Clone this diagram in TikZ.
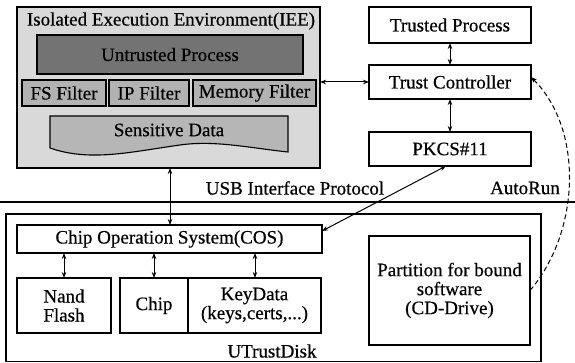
\documentclass[tikz,border=0pt]{standalone}
\usepackage{fontspec}
\setmainfont{Liberation Serif}[FakeBold=0.5]
\usetikzlibrary{arrows.meta}
\definecolor{ieebg}{RGB}{217,217,217}
\definecolor{darkbox}{RGB}{115,115,115}
\definecolor{filterbg}{RGB}{178,178,178}
\definecolor{databg}{RGB}{182,182,182}
\tikzset{
  box/.style={draw, line width=1.1pt, inner sep=0pt, outer sep=0pt, align=center},
  lbl/.style={inner sep=0pt, outer sep=0pt},
  link/.style={line width=1pt, {Stealth[length=6pt,width=4.5pt]}-{Stealth[length=6pt,width=4.5pt]}},
  autorun/.style={line width=1pt, dash pattern=on 5pt off 3pt, -{Stealth[length=6pt,width=4.5pt]}},
}
\begin{document}
\begin{tikzpicture}[x=1pt,y=-1pt,font=\fontsize{19}{21}\selectfont]
\useasboundingbox (0,0) rectangle (575,363);

% Isolated execution environment
\node[box, fill=ieebg, minimum width=303pt, minimum height=161pt] (iee) at (168.5,87.5) {};
\node[lbl] (ieelabel) at (171,21) {Isolated Execution Environment(IEE)};
\node[box, fill=darkbox, minimum width=266pt, minimum height=39pt] (untrusted) at (170,54.5) {Untrusted Process};
\node[box, fill=filterbg, minimum width=84pt, minimum height=26pt] (fs) at (64,93) {FS Filter};
\node[box, fill=filterbg, minimum width=80pt, minimum height=26pt] (ip) at (149,93) {IP Filter};
\node[box, fill=filterbg, minimum width=123pt, minimum height=26pt] (mem) at (254.5,93) {Memory Filter};
% sensitive data: document shape with wavy lower edge
\draw[line width=1.1pt, fill=databg] (50,116) -- (288,116) -- (288,152)
  .. controls (250,148) and (215,140) .. (180,145)
  .. controls (130,152) and (90,162) .. (50,148) -- cycle;
\node[lbl] (sensitive) at (169,130) {Sensitive Data};

% host side
\node[box, minimum width=162pt, minimum height=36pt] (trusted) at (450,25) {Trusted Process};
\node[box, minimum width=162pt, minimum height=34pt] (tc) at (450,82) {Trust Controller};
\node[box, minimum width=162pt, minimum height=34pt] (pkcs) at (450,149) {PKCS\#11};

% USB boundary
\draw[line width=2.6pt] (0,202) -- (575,202);
\node[lbl] (usb) at (295,188) {USB Interface Protocol};
\node[lbl] (autorunlbl) at (525,188) {AutoRun};

% UTrustDisk
\node[box, minimum width=535pt, minimum height=147.5pt] (utd) at (273.5,287.75) {};
\node[lbl] (utdlabel) at (272,351) {UTrustDisk};
\node[box, minimum width=305pt, minimum height=28pt] (cos) at (169.5,239) {Chip Operation System(COS)};
\node[box, minimum width=94pt, minimum height=55pt] (nand) at (64,305.5) {Nand\\[-2pt]Flash};
\node[box, minimum width=68pt, minimum height=55pt] (chip) at (154,305.5) {Chip};
\node[box, minimum width=133pt, minimum height=55pt] (keydata) at (254.5,305.5) {KeyData\\[-2pt](keys,certs,...)};
\node[box, minimum width=161pt, minimum height=109pt] (part) at (449.5,290.5) {Partition for bound\\[-2pt]software\\[-2pt](CD-Drive)};

% connectors
\draw[link] (trusted.south) -- (tc.north);
\draw[link] (tc.south) -- (pkcs.north);
\draw[link] (iee.east |- tc.west) -- (tc.west);
\draw[link] (iee.south -| 170,0) -- (cos.north -| 170,0);
\draw[link] (cos.south -| nand.north) -- (nand.north);
\draw[link] (cos.south -| chip.north) -- (chip.north);
\draw[link] (cos.south -| 255,0) -- (keydata.north -| 255,0);
\draw[link] ([yshift=8pt]cos.east) -- ([xshift=-4pt]pkcs.south);
\draw[autorun] (part.east) .. controls (580,232) and (584,130) .. ([yshift=5pt]tc.east);
\end{tikzpicture}
\end{document}
